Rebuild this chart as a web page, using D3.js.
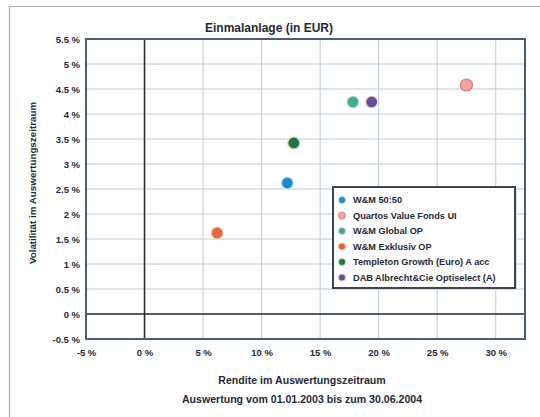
<!DOCTYPE html>
<html>
<head>
<meta charset="utf-8">
<script src="https://cdn.jsdelivr.net/npm/d3@7/dist/d3.min.js"></script>
<style>
  html, body { margin: 0; padding: 0; background: #ffffff; }
  svg { display: block; }
  text { font-family: "Liberation Sans", Arial, sans-serif; fill: #1f2a36; }
</style>
</head>
<body>
<svg id="chart" width="540" height="417"></svg>
<script>
// Funds plotted: return (x, %) against volatility (y, %)
const funds = ["W&M 50:50", "Quartos Value Fonds UI", "W&M Global OP", "W&M Exklusiv OP",
               "Templeton Growth (Euro) A acc", "DAB Albrecht&Cie Optiselect (A)"];
const returns = [12.2, 27.5, 17.8, 6.2, 12.75, 19.4];
const volatility = [2.62, 4.58, 4.24, 1.62, 3.42, 4.24];
const colors = ["#1d8ad6", "#f2a6a4", "#3daf8e", "#e8653e", "#17784a", "#6a4c9e"];
const strokes = ["#e9e1c6", "#d77b78", "#e9e1c6", "#e9d6b8", "#e9d8a6", "#e6dcc8"];

const xTicks = [-5, 0, 5, 10, 15, 20, 25, 30];
const yTicks = [-0.5, 0, 0.5, 1, 1.5, 2, 2.5, 3, 3.5, 4, 4.5, 5, 5.5];

const title = "Einmalanlage (in EUR)";
const yTitle = "Volatilität im Auswertungszeitraum";
const xTitle = ["Rendite im Auswertungszeitraum", "Auswertung vom 01.01.2003 bis zum 30.06.2004"];

const svg = d3.select("#chart");
const plot = { left: 86, right: 525, top: 39, bottom: 339 };

const x = d3.scaleLinear().domain([-5, 32.5]).range([plot.left, plot.right]);
const y = d3.scaleLinear().domain([-0.5, 5.5]).range([plot.bottom, plot.top]);
const pct = d => String(d) + " %";

// outer frame
svg.append("path")
  .attr("d", "M9.5,417 V6.5 H540")
  .attr("fill", "none").attr("stroke", "#a9b0b8").attr("stroke-width", 1.2);

// plot background
svg.append("rect")
  .attr("x", plot.left).attr("y", plot.top)
  .attr("width", plot.right - plot.left).attr("height", plot.bottom - plot.top)
  .attr("fill", "#ffffff");

// gridlines
const grid = svg.append("g");
grid.selectAll("line.gx").data(xTicks).join("line")
  .attr("x1", d => x(d)).attr("x2", d => x(d))
  .attr("y1", plot.top).attr("y2", plot.bottom)
  .attr("stroke", "#bccbd8").attr("stroke-width", 1);
grid.selectAll("line.gy").data(yTicks).join("line")
  .attr("y1", d => y(d)).attr("y2", d => y(d))
  .attr("x1", plot.left).attr("x2", plot.right)
  .attr("stroke", "#bccbd8").attr("stroke-width", 1);

// zero lines
svg.append("line")
  .attr("x1", x(0)).attr("x2", x(0)).attr("y1", plot.top).attr("y2", plot.bottom)
  .attr("stroke", "#2a3038").attr("stroke-width", 1.6);
svg.append("line")
  .attr("y1", y(0)).attr("y2", y(0)).attr("x1", plot.left).attr("x2", plot.right)
  .attr("stroke", "#2a3038").attr("stroke-width", 1.6);

// plot border
svg.append("rect")
  .attr("x", plot.left).attr("y", plot.top)
  .attr("width", plot.right - plot.left).attr("height", plot.bottom - plot.top)
  .attr("fill", "none").attr("stroke", "#4f5d6b").attr("stroke-width", 2);

// axes
const xAxis = svg.append("g")
  .attr("transform", `translate(0,${plot.bottom})`)
  .call(d3.axisBottom(x).tickValues(xTicks).tickFormat(pct).tickSize(0).tickPadding(10));
const yAxis = svg.append("g")
  .attr("transform", `translate(${plot.left},0)`)
  .call(d3.axisLeft(y).tickValues(yTicks).tickFormat(pct).tickSize(0).tickPadding(6));
[xAxis, yAxis].forEach(a => {
  a.select(".domain").remove();
  a.selectAll("text")
    .attr("font-family", "'Liberation Sans', Arial, sans-serif")
    .attr("font-size", 9.5).attr("font-weight", "bold").attr("fill", "#1f2a36");
});

// titles
svg.append("text")
  .attr("x", 269).attr("y", 32).attr("text-anchor", "middle")
  .attr("font-size", 12).attr("font-weight", "bold").text(title);
svg.append("text")
  .attr("transform", `translate(36,${183}) rotate(-90)`)
  .attr("text-anchor", "middle")
  .attr("font-size", 9.8).attr("font-weight", "bold").text(yTitle);
svg.selectAll("text.xtitle").data(xTitle).join("text")
  .attr("x", 302).attr("y", (d, i) => 384 + i * 19)
  .attr("text-anchor", "middle")
  .attr("font-size", 10.6).attr("font-weight", "bold").text(d => d);

// points
svg.append("g").selectAll("circle").data(funds).join("circle")
  .attr("cx", (d, i) => x(returns[i]))
  .attr("cy", (d, i) => y(volatility[i]))
  .attr("r", 6)
  .attr("fill", (d, i) => colors[i])
  .attr("stroke", (d, i) => strokes[i])
  .attr("stroke-width", 1.2);

// legend
const lg = svg.append("g").attr("transform", "translate(333,187)");
lg.append("rect").attr("x", 2).attr("y", 2).attr("width", 182).attr("height", 101)
  .attr("fill", "#d5d9dd");
lg.append("rect").attr("width", 182).attr("height", 101)
  .attr("fill", "#ffffff").attr("stroke", "#3c4650").attr("stroke-width", 2);
const item = lg.selectAll("g.item").data(funds).join("g")
  .attr("transform", (d, i) => `translate(0,${13 + i * 15.5})`);
item.append("circle").attr("cx", 9).attr("cy", 0).attr("r", 3.6)
  .attr("fill", (d, i) => colors[i])
  .attr("stroke", (d, i) => strokes[i]).attr("stroke-width", 0.8);
item.append("text").attr("x", 20).attr("y", 3.3)
  .attr("font-size", 9.2).attr("font-weight", "bold").text(d => d);
</script>
</body>
</html>
